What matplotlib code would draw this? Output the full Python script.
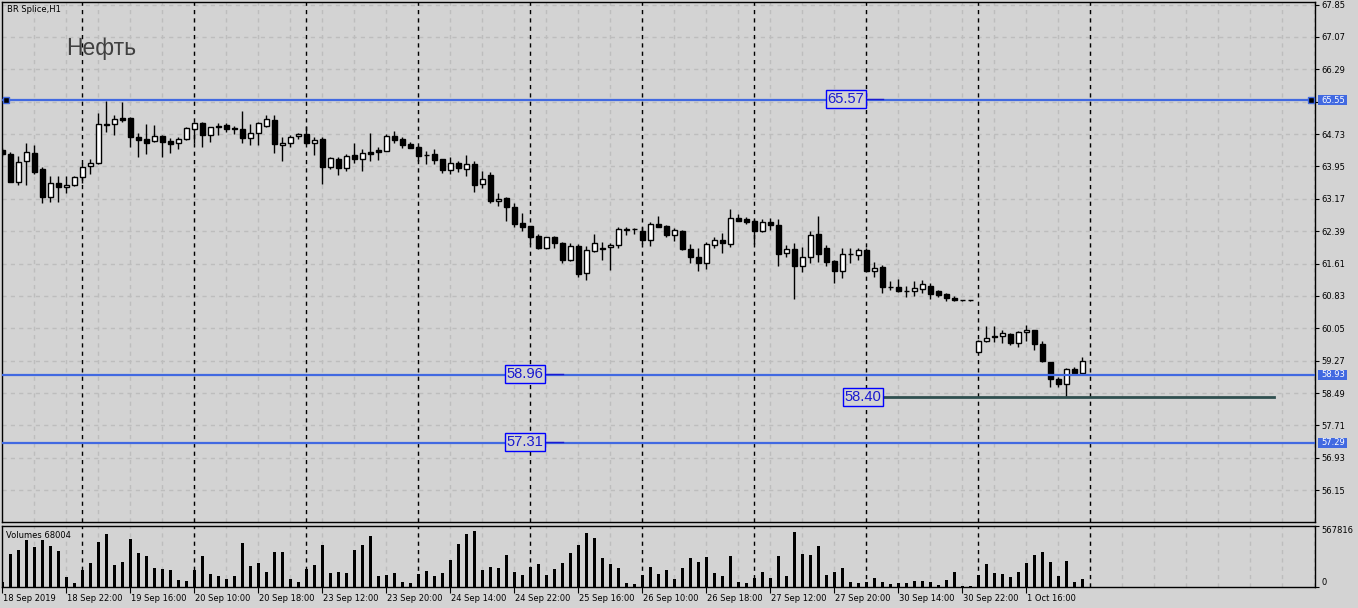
import matplotlib.pyplot as plt
import numpy as np
from matplotlib.patches import Rectangle
from matplotlib.transforms import ScaledTranslation

plt.rcParams['font.family'] = ['DejaVu Sans']

# hourly bars, BR Splice H1, 18 Sep 2019 14:00 .. 1 Oct 2019 23:00
opens = [64.35, 64.25, 63.58, 64.07, 64.27, 63.89, 63.21, 63.54, 63.45, 63.50,
         63.69, 63.95, 64.03, 64.96, 64.97, 65.12, 65.12, 64.66, 64.61, 64.57,
         64.68, 64.57, 64.51, 64.60, 64.85, 65.00, 64.72, 64.92, 64.95, 64.88,
         64.85, 64.63, 64.75, 64.92, 65.07, 64.46, 64.52, 64.68, 64.73, 64.52,
         64.61, 63.94, 64.12, 63.91, 64.23, 64.14, 64.29, 64.35, 64.33, 64.68,
         64.60, 64.49, 64.41, 64.22, 64.25, 64.13, 63.86, 64.03, 63.90, 64.01,
         63.52, 63.74, 63.11, 63.19, 62.98, 62.58, 62.51, 62.27, 61.99, 62.26,
         62.11, 61.70, 62.03, 61.39, 61.92, 61.98, 62.00, 62.05, 62.43, 62.45,
         62.39, 62.19, 62.56, 62.52, 62.29, 62.40, 61.96, 61.76, 61.62, 62.05,
         62.17, 62.07, 62.72, 62.68, 62.64, 62.40, 62.60, 62.54, 61.86, 61.95,
         61.56, 61.76, 62.32, 61.98, 61.67, 61.44, 61.83, 61.81, 61.94, 61.44,
         61.53, 61.05, 61.05, 60.95, 60.95, 60.99, 61.07, 60.95, 60.87, 60.79,
         60.73, 60.73, 59.47, 59.74, 59.87, 59.86, 59.91, 59.69, 59.96, 60.01,
         59.67, 59.23, 58.83, 58.70, 59.07, 58.97]
highs = [64.40, 64.31, 64.21, 64.51, 64.47, 63.94, 63.72, 63.72, 63.72, 63.72,
         64.03, 64.14, 65.23, 65.53, 65.18, 65.50, 65.13, 64.76, 64.98, 64.96,
         64.72, 64.64, 64.65, 64.91, 65.02, 65.02, 64.91, 65.00, 65.00, 64.92,
         65.29, 64.97, 65.03, 65.19, 65.19, 64.66, 64.71, 64.75, 64.92, 64.65,
         64.65, 64.18, 64.18, 64.25, 64.52, 64.37, 64.75, 64.43, 64.73, 64.80,
         64.65, 64.53, 64.44, 64.32, 64.37, 64.13, 64.17, 64.08, 64.23, 64.09,
         63.84, 63.81, 63.30, 63.22, 63.06, 62.82, 62.52, 62.32, 62.26, 62.27,
         62.14, 62.10, 62.07, 62.03, 62.32, 62.13, 62.10, 62.48, 62.48, 62.46,
         62.50, 62.60, 62.76, 62.54, 62.46, 62.42, 62.07, 61.98, 62.12, 62.26,
         62.34, 62.92, 62.80, 62.73, 62.69, 62.69, 62.71, 62.68, 62.06, 62.10,
         62.00, 62.39, 62.76, 62.05, 61.69, 61.98, 61.98, 61.98, 61.98, 61.65,
         61.57, 61.19, 61.25, 61.06, 61.19, 61.21, 61.13, 60.97, 60.89, 60.82,
         60.74, 60.74, 59.78, 60.10, 60.10, 60.01, 59.94, 59.98, 60.12, 60.02,
         59.75, 59.23, 58.88, 59.10, 59.12, 59.37]
lows = [64.20, 63.57, 63.51, 63.50, 63.76, 63.08, 63.10, 63.10, 63.32, 63.49,
        63.54, 63.76, 64.02, 64.79, 64.72, 65.03, 64.43, 64.18, 64.26, 64.55,
        64.18, 64.27, 64.38, 64.59, 64.52, 64.43, 64.55, 64.72, 64.79, 64.73,
        64.51, 64.46, 64.46, 64.91, 64.27, 64.09, 64.43, 64.62, 64.50, 64.23,
        63.53, 63.89, 63.75, 63.84, 64.03, 63.84, 64.07, 64.10, 64.32, 64.52,
        64.40, 64.39, 64.07, 64.00, 64.01, 63.80, 63.77, 63.82, 63.73, 63.34,
        63.43, 63.06, 63.00, 62.64, 62.50, 62.39, 62.07, 61.97, 61.97, 61.98,
        61.63, 61.67, 61.28, 61.21, 61.89, 61.69, 61.45, 61.99, 62.31, 62.32,
        62.07, 62.04, 62.48, 62.26, 62.16, 61.94, 61.63, 61.44, 61.49, 61.98,
        61.86, 62.02, 62.64, 62.57, 62.07, 62.38, 62.42, 61.56, 61.78, 60.75,
        61.41, 61.63, 61.66, 61.55, 61.13, 61.27, 61.62, 61.69, 61.43, 61.29,
        60.89, 60.97, 60.93, 60.80, 60.84, 60.91, 60.75, 60.81, 60.72, 60.72,
        60.72, 60.72, 59.46, 59.72, 59.73, 59.70, 59.65, 59.61, 59.74, 59.53,
        59.23, 58.64, 58.64, 58.40, 58.97, 58.96]
closes = [64.25, 63.58, 64.06, 64.30, 63.82, 63.22, 63.54, 63.46, 63.50, 63.69,
          63.93, 64.03, 64.97, 64.98, 65.09, 65.07, 64.65, 64.59, 64.51, 64.68,
          64.55, 64.48, 64.61, 64.87, 65.00, 64.72, 64.89, 64.89, 64.85, 64.86,
          64.63, 64.75, 65.00, 65.09, 64.48, 64.51, 64.66, 64.73, 64.52, 64.58,
          63.94, 64.15, 63.91, 64.20, 64.14, 64.28, 64.24, 64.30, 64.68, 64.59,
          64.47, 64.40, 64.21, 64.23, 64.11, 63.86, 64.03, 63.92, 64.00, 63.51,
          63.66, 63.12, 63.17, 62.97, 62.56, 62.48, 62.26, 61.98, 62.24, 62.10,
          61.70, 62.03, 61.36, 61.94, 62.10, 61.96, 62.05, 62.44, 62.45, 62.44,
          62.17, 62.56, 62.50, 62.31, 62.42, 61.95, 61.76, 61.62, 62.07, 62.17,
          62.10, 62.70, 62.64, 62.62, 62.40, 62.60, 62.53, 61.84, 61.95, 61.56,
          61.76, 62.29, 61.85, 61.64, 61.44, 61.84, 61.85, 61.94, 61.44, 61.50,
          61.05, 61.05, 60.94, 60.94, 61.01, 61.11, 60.88, 60.85, 60.78, 60.73,
          60.73, 60.73, 59.74, 59.82, 59.83, 59.93, 59.69, 59.96, 60.01, 59.67,
          59.27, 58.82, 58.70, 59.07, 58.97, 59.26]
volumes = [40000, 305760, 343200, 436800, 371280, 436800, 380640, 333840, 90480, 37440,
           156000, 221520, 418080, 492960, 202800, 230880, 446160, 315120, 287040, 174720,
           162240, 156000, 62400, 53040, 156000, 287040, 118560, 99840, 71760, 99840,
           408720, 193440, 221520, 137280, 324480, 324480, 71760, 43680, 165360, 202800,
           390000, 127920, 137280, 131040, 343200, 390000, 474240, 99840, 109200, 127920,
           43680, 34320, 118560, 146640, 99840, 127920, 249600, 399360, 492960, 521040,
           156000, 184080, 174720, 296400, 137280, 109200, 184080, 212160, 109200, 165360,
           221520, 315120, 390000, 502320, 455520, 268320, 212160, 174720, 34320, 24960,
           109200, 184080, 118560, 156000, 71760, 174720, 268320, 230880, 277680, 127920,
           99840, 287040, 43680, 34320, 81120, 137280, 81120, 287040, 99840, 511680,
           305760, 296400, 380640, 109200, 137280, 174720, 43680, 34320, 43680, 81120,
           43680, 24960, 34320, 34320, 53040, 53040, 43680, 15600, 62400, 137280,
           6240, 6240, 109200, 212160, 127920, 118560, 90480, 137280, 221520, 296400,
           324480, 230880, 99840, 240240, 43680, 68004]

date_labels = ['18 Sep 2019', '18 Sep 22:00', '19 Sep 16:00', '20 Sep 10:00',
               '20 Sep 18:00', '23 Sep 12:00', '23 Sep 20:00', '24 Sep 14:00',
               '24 Sep 22:00', '25 Sep 16:00', '26 Sep 10:00', '26 Sep 18:00',
               '27 Sep 12:00', '27 Sep 20:00', '30 Sep 14:00', '30 Sep 22:00',
               '1 Oct 16:00']
date_bars = [0, 8, 16, 24, 32, 40, 48, 56, 64, 72, 80, 88, 96, 104, 112, 120, 128]
day_starts = [10, 24, 38, 52, 66, 80, 94, 108, 122, 136]

price_ticks = [67.85, 67.07, 66.29, 65.51, 64.73, 63.95, 63.17, 62.39,
               61.61, 60.83, 60.05, 59.27, 58.49, 57.71, 56.93, 56.15]
vol_max = 567816

levels = [65.55, 58.93, 57.29]
# (text, price, bar of box centre, bar where the short line ends)
notes = [('65.57', 65.57, 105.45, 110.1),
         ('58.96', 58.96, 65.3, 70.1),
         ('57.31', 57.31, 65.3, 70.1)]
support = ('58.40', 58.40, 107.6, 158.95)

bg = '#d3d3d3'
grid_c = '#bdbdbd'
blue = '#4169e1'
W, H = 1358, 608

fig = plt.figure(figsize=(W / 100, H / 100), dpi=100, facecolor=bg)
ax = fig.add_axes([2 / W, 86 / H, 1313 / W, 520 / H], facecolor=bg)
axv = fig.add_axes([2 / W, 21.3 / H, 1313 / W, 60.7 / H], facecolor=bg)

x = np.arange(len(opens))
o = np.array(opens)
h = np.array(highs)
l = np.array(lows)
c = np.array(closes)
up = c >= o

xmin, xmax = -0.05, 164.075
for a in (ax, axv):
    a.set_xlim(xmin, xmax)
    for g in np.arange(4, 165, 4):
        a.axvline(g, color=grid_c, lw=1, ls=(0, (3, 3)), zorder=1)
    for d in day_starts:
        a.axvline(d, color='black', lw=1, ls=(0, (3, 3)), zorder=2)
    for s in a.spines.values():
        s.set_color('black')
        s.set_linewidth(1)

# candles
ax.vlines(x, l, h, color='black', lw=1, zorder=3)
bot = np.minimum(o, c)
hgt = np.abs(c - o)
ax.bar(x[up], hgt[up], bottom=bot[up], width=0.55, color='white',
       edgecolor='black', lw=1, zorder=4)
ax.bar(x[~up], hgt[~up], bottom=bot[~up], width=0.55, color='black',
       edgecolor='black', lw=1, zorder=4)

ax.set_ylim(55.383, 67.913)
ax.set_yticks(price_ticks)
ax.set_yticklabels(['' if abs(t - 65.51) < 1e-6 else f'{t:.2f}' for t in price_ticks])
ax.yaxis.tick_right()
ax.tick_params(axis='y', direction='out', length=3, width=0.8, labelsize=6, pad=1.5)
ax.set_xticks([])
for t in price_ticks:
    ax.axhline(t, color=grid_c, lw=1, ls=(0, (3, 3)), zorder=1)

# horizontal levels
for p in levels:
    ax.axhline(p, color=blue, lw=1.6, zorder=5)
    ax.add_patch(Rectangle((1.0022, p - 0.124), 29 / 1313, 0.248,
                           transform=ax.get_yaxis_transform(), fc=blue, ec='none',
                           clip_on=False, zorder=6))
    ax.text(1.0022 + 3 / 1313, p, f'{p:.2f}', transform=ax.get_yaxis_transform(),
            ha='left', va='center', color='white', fontsize=6, clip_on=False, zorder=7)
ax.plot([0.45, 163.6], [levels[0], levels[0]], 's', ms=4.5, mfc='black',
        mec=blue, mew=1, zorder=6, clip_on=False)

box_h = 18 / 41.5
for txt, p, bx, bend in notes + [support]:
    lc = '#2f4f4f' if txt == support[0] else '#1a1ad0'
    lw = 2 if txt == support[0] else 1
    ax.plot([bx + 2.5, bend], [p, p], color=lc, lw=lw, zorder=5)
    ax.add_patch(Rectangle((bx - 2.5, p - box_h / 2), 5, box_h, fc=bg,
                           ec='#0000ff', lw=1, zorder=6))
    ax.text(bx, p, txt, ha='center', va='center', fontsize=10.6,
            family='Liberation Sans', color='#1a1ad0', zorder=7)

# volumes
axv.bar(x, volumes, width=0.4, color='black', zorder=3)
axv.set_ylim(0, vol_max)
axv.set_yticks([0, vol_max])
axv.set_yticklabels(['0', str(vol_max)])
axv.yaxis.tick_right()
axv.tick_params(axis='y', direction='out', length=3, width=0.8, labelsize=6, pad=1.5)
ylabs = axv.get_yticklabels()
ylabs[0].set_verticalalignment('bottom')
ylabs[1].set_verticalalignment('top')

axv.set_xticks(date_bars)
axv.set_xticklabels(date_labels, fontsize=6)
axv.tick_params(axis='x', direction='out', length=4, width=0.8, pad=1)
off = ScaledTranslation(1 / 100, 0, fig.dpi_scale_trans)
for lab in axv.get_xticklabels():
    lab.set_horizontalalignment('left')
    lab.set_transform(lab.get_transform() + off)

fig.text(6.5 / W, 1 - 10 / H, 'BR Splice,H1', fontsize=6, va='center', color='black')
fig.text(6 / W, 1 - 535 / H, 'Volumes 68004', fontsize=6, va='center', color='black')
fig.text(66 / W, 1 - 54.5 / H, 'Нефть', fontsize=16.5, family='Liberation Sans',
         color='#404040', va='baseline')

fig.savefig('out.png', dpi=100, facecolor=bg)
